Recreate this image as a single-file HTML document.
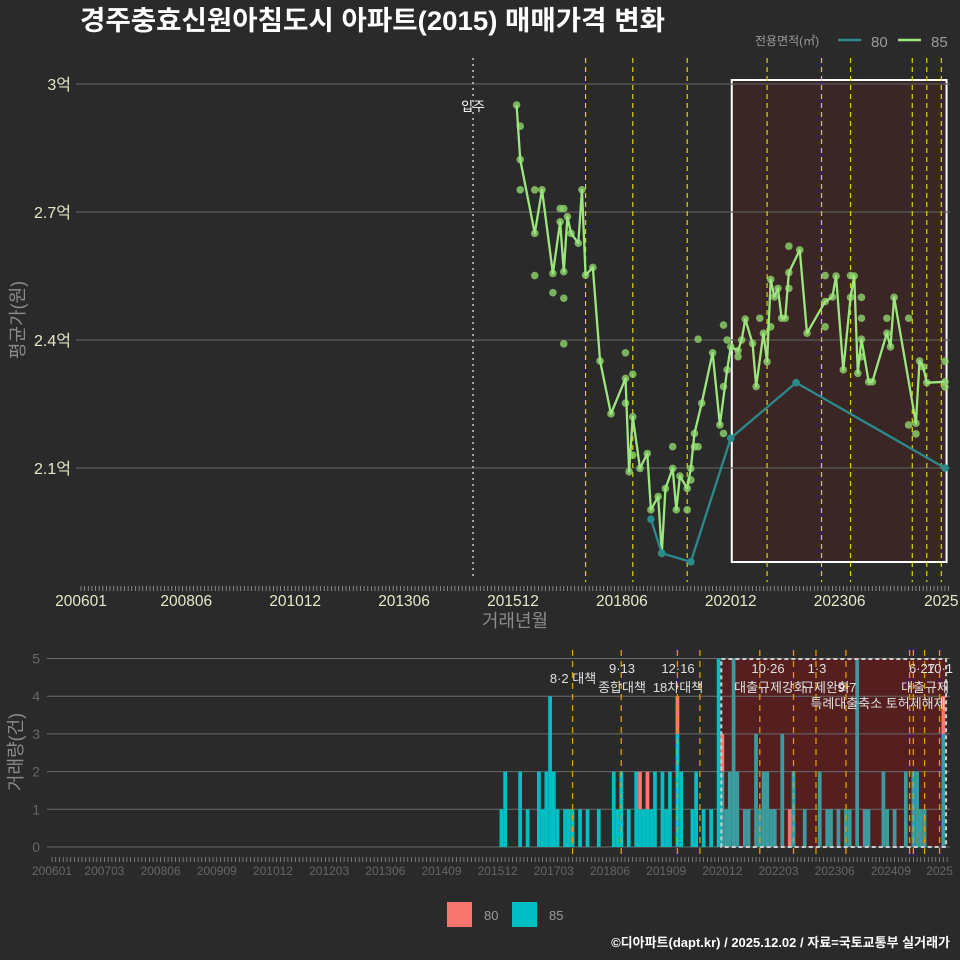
<!DOCTYPE html>
<html><head><meta charset="utf-8">
<style>
html,body{margin:0;padding:0;background:#2a2a2a;}
svg{display:block;font-family:"Liberation Sans","Noto Sans CJK KR",sans-serif;}
</style></head>
<body>
<svg id="c" width="960" height="960" viewBox="0 0 960 960">
<rect x="0" y="0" width="960" height="960" fill="#2a2a2a"/>
<text x="80" y="30" fill="#ffffff" font-size="27" font-weight="bold" textLength="585" lengthAdjust="spacingAndGlyphs">경주충효신원아침도시 아파트(2015) 매매가격 변화</text>
<g>
<text x="755" y="45" fill="#9a9a9a" font-size="12">전용면적(㎡)</text>
<line x1="838" y1="40" x2="861" y2="40" stroke="#2a8a8c" stroke-width="2.5"/>
<text x="871" y="47" fill="#9a9a9a" font-size="15">80</text>
<line x1="898" y1="40" x2="921" y2="40" stroke="#9be77e" stroke-width="2.5"/>
<text x="931" y="47" fill="#9a9a9a" font-size="15">85</text>
</g>
<g id="topg"></g>
<g id="botg"></g>
<text x="515" y="627" fill="#8a8a8a" font-size="18" text-anchor="middle">거래년월</text>
<text transform="translate(24,320) rotate(-90)" fill="#8a8a8a" font-size="18" text-anchor="middle">평균가(원)</text>
<text transform="translate(22,752) rotate(-90)" fill="#8a8a8a" font-size="18" text-anchor="middle">거래량(건)</text>
<g>
<rect x="447" y="902" width="25" height="25" fill="#f8766d"/>
<text x="484" y="920" fill="#9a9a9a" font-size="13">80</text>
<rect x="512" y="902" width="25" height="25" fill="#00bfc4"/>
<text x="549" y="920" fill="#9a9a9a" font-size="13">85</text>
</g>
<text x="950" y="947" fill="#ffffff" font-size="13" font-weight="bold" text-anchor="end">©디아파트(dapt.kr) / 2025.12.02 / 자료=국토교통부 실거래가</text>
</svg>
<script>
const NS="http://www.w3.org/2000/svg";
// ---- data ----
const yTicks=[2.1,2.4,2.7,3.0];
const yTickLabels=["2.1억","2.4억","2.7억","3억"];
const xTickLabelsTop=["200601","200806","201012","201306","201512","201806","202012","202306","202510"];
const xTickLabelsBot=["200601","200703","200806","200909","201012","201203","201306","201409","201512","201703","201806","201909","202012","202203","202306","202409","202510"];
const line85Months=["201601","201602","201606","201608","201611","201701","201702","201703","201704","201706","201707","201708","201710","201712","201803","201807","201808","201809","201811","201901","201902","201904","201905","201906","201908","201909","201910","201912","202001","202002","202004","202007","202009","202011","202012","202102","202103","202104","202106","202107","202109","202110","202111","202112","202201","202202","202203","202204","202207","202209","202302","202304","202305","202307","202309","202310","202311","202312","202402","202403","202407","202408","202409","202503","202504","202505","202506","202511"];
const line85Values=[2.951,2.823,2.650,2.752,2.556,2.677,2.560,2.689,2.650,2.627,2.752,2.552,2.570,2.351,2.227,2.310,2.091,2.220,2.099,2.134,2.002,2.033,1.900,2.052,2.099,2.002,2.081,2.052,2.099,2.181,2.252,2.370,2.201,2.330,2.384,2.375,2.400,2.449,2.392,2.291,2.416,2.349,2.542,2.501,2.521,2.451,2.451,2.558,2.611,2.416,2.490,2.501,2.550,2.330,2.500,2.550,2.322,2.402,2.302,2.302,2.416,2.384,2.500,2.205,2.351,2.337,2.300,2.302];
const extra85Months=["201602","201602","201606","201606","201611","201702","201702","201701","201702","201807","201809","201807","201809","201908","201912","202003","202002","202001","202003","202010","202010","202010","202011","202102","202108","202111","202204","202204","202302","202302","202309","202312","202312","202312","202407","202501","202501","202503","202511","202511"];
const extra85Values=[2.901,2.752,2.752,2.551,2.511,2.498,2.391,2.708,2.708,2.370,2.320,2.252,2.130,2.150,2.002,2.150,2.150,2.072,2.402,2.435,2.291,2.181,2.400,2.361,2.451,2.431,2.521,2.620,2.551,2.431,2.551,2.500,2.451,2.361,2.451,2.451,2.201,2.180,2.350,2.290];
const line80Months=["201902","201905","202001","202012","202206","202511"];
const line80Values=[1.98,1.90,1.88,2.17,2.30,2.10];
const barMonths=["201601","201602","201606","201608","201611","201612","201701","201702","201703","201704","201706","201707","201708","201710","201712","201803","201807","201808","201809","201811","201901","201902","201903","201904","201905","201906","201908","201909","201910","201912","202001","202004","202005","202007","202009","202011","202012","202101","202102","202103","202104","202106","202107","202109","202110","202111","202112","202201","202202","202204","202206","202207","202210","202302","202304","202305","202307","202309","202310","202312","202402","202403","202407","202408","202410","202501","202503","202504","202505","202506","202511"];
const bar85=[1,2,2,1,2,1,2,4,2,1,1,1,1,1,1,1,2,1,2,1,2,1,1,1,1,2,2,1,2,3,2,1,2,1,1,5,2,1,2,5,2,1,1,3,1,2,2,1,1,3,0,2,1,2,1,1,1,1,1,5,1,1,2,1,1,2,2,2,1,1,3];
const bar80=[0,0,0,0,0,0,0,0,0,0,0,0,0,0,0,0,0,0,0,0,0,1,0,1,0,0,0,0,0,1,0,0,0,0,0,0,1,0,0,0,0,0,0,0,0,0,0,0,0,0,1,0,0,0,0,0,0,0,0,0,0,0,0,0,0,0,0,0,0,0,1];
const eventTopMonths=["201708","201809","201912","202110","202301","202309","202502","202506","202510"];
const eventBotMonths=["201708","201809","201912","202006","202110","202207","202301","202309","202502","202503","202506","202510"];
const moveInMonth="201501";
const highlightStart="202012", highlightEnd="202512";
// ---- scales ----
function mi(s){return (parseInt(s.slice(0,4))-2006)*12+parseInt(s.slice(4))-1;}
function xT(s){return 81+mi(s)*3.63;}
function yT(v){return 468-(v-2.1)*426.67;}
function xB(s){return 52+mi(s)*3.745;}
function yB(v){return 847-v*37.7;}
function mk(tag,attrs,parent){const e=document.createElementNS(NS,tag);for(const k in attrs)e.setAttribute(k,attrs[k]);parent.appendChild(e);return e;}
const topG=document.getElementById('topg'), botG=document.getElementById('botg');
let e=mk('rect',{x:xT(highlightStart)+1,y:80,width:xT(highlightEnd)-xT(highlightStart)-3,height:482,fill:'rgba(130,25,25,0.2)',stroke:'#ffffff','stroke-width':2},topG);


yTicks.forEach((v,i)=>{
 let g=mk('line',{x1:76,x2:950,y1:yT(v),y2:yT(v),stroke:'#5a5a5a','stroke-width':1.3},topG);
 
 
 let t=mk('text',{x:71,y:yT(v)+6,fill:'#e8e8c8','font-size':16,'text-anchor':'end'},topG);
 t.textContent=yTickLabels[i];
 
 
});
let tk='';for(let m=0;m<=239;m++){const x=81+m*3.63;tk+=`M${x.toFixed(1)} 586V591`;}
e=mk('path',{d:tk,stroke:'#9a9a9a','stroke-width':0.8},topG);


xTickLabelsTop.forEach(s=>{
 let t=mk('text',{x:xT(s),y:606,fill:'#e8e8c8','font-size':15.5,'text-anchor':'middle'},topG);
 t.textContent=s==='202510'?'2025':s;
 
 
});
e=mk('line',{x1:xT(moveInMonth),x2:xT(moveInMonth),y1:58,y2:580,stroke:'#cccccc','stroke-width':1.5,'stroke-dasharray':'2,4'},topG);


e=mk('text',{x:xT(moveInMonth),y:111,fill:'#ffffff','font-size':13,'text-anchor':'middle'},topG);
e.textContent='입주';


eventTopMonths.forEach(s=>{
 let l=mk('line',{x1:xT(s),x2:xT(s),y1:58,y2:582,stroke:'#d8d800','stroke-width':1.2,'stroke-dasharray':'5,4'},topG);
 
 
});
line85Months.concat(extra85Months).forEach((s,i)=>{
 const v=i<line85Months.length?line85Values[i]:extra85Values[i-line85Months.length];
 let c=mk('circle',{cx:xT(s),cy:yT(v),r:3.8,fill:'#8fd46c','fill-opacity':0.8},topG);
 
 
});
e=mk('polyline',{points:line85Months.map((s,i)=>xT(s)+','+yT(line85Values[i])).join(' '),fill:'none',stroke:'#9be77e','stroke-width':2.3,'stroke-linejoin':'round'},topG);


e=mk('polyline',{points:line80Months.map((s,i)=>xT(s)+','+yT(line80Values[i])).join(' '),fill:'none',stroke:'#2a8a8c','stroke-width':2.3},topG);


line80Months.forEach((s,i)=>{
 let c=mk('circle',{cx:xT(s),cy:yT(line80Values[i]),r:3.8,fill:'#2a8a8c'},topG);
 
 
});
// ---- bottom ----
const hx0=xB(highlightStart)-1, hx1=xB(highlightEnd)-1;
e=mk('rect',{x:hx0,y:659,width:hx1-hx0,height:188,fill:'#551f20'},botG);


[0,1,2,3,4,5].forEach(v=>{
 let g=mk('line',{x1:47,x2:950,y1:yB(v),y2:yB(v),stroke:'#6a6a6a','stroke-width':1},botG);
 
 
 let t=mk('text',{x:40,y:yB(v)+5,fill:'#666666','font-size':14,'text-anchor':'end'},botG);
 t.textContent=v;
 
 
});
barMonths.forEach((s,i)=>{
 const inH=xB(s)>=hx0;
 const x=xB(s)-1.87,w=3.745;
 if(bar85[i]>0){let b=mk('rect',{x:x,y:yB(bar85[i]),width:w,height:bar85[i]*37.7,fill:inH?'#3a9c9e':'#00bfc4'},botG);
 
 }
 if(bar80[i]>0){let b=mk('rect',{x:x,y:yB(bar85[i]+bar80[i]),width:w,height:bar80[i]*37.7,fill:'#f8766d'},botG);
 
 }
});
e=mk('rect',{x:hx0,y:659,width:hx1-hx0,height:188,fill:'none',stroke:'#cccccc','stroke-width':2,'stroke-dasharray':'4,3'},botG);


eventBotMonths.forEach(s=>{
 let l=mk('line',{x1:xB(s),x2:xB(s),y1:650,y2:856,stroke:'#e09a00','stroke-width':1.3,'stroke-dasharray':'6,5'},botG);
 
 
});
let bt='';for(let m=0;m<=239;m++){const x=52+m*3.745;bt+=`M${x.toFixed(1)} 857V862`;}
e=mk('path',{d:bt,stroke:'#8a8a8a','stroke-width':0.8},botG);


xTickLabelsBot.forEach(s=>{
 let t=mk('text',{x:xB(s),y:875,fill:'#666666','font-size':12,'text-anchor':'middle'},botG);
 t.textContent=s==='202510'?'2025':s;
 
 
});
const ann=[["8·2 대책",573,683],["9·13",622,673],["종합대책",622,692],["12·16",678,673],["18차대책",678,692],["10·26",768,673],["대출규제강화",770,692],["1·3",817,673],["규제완화",826,692],["9·7",847,692],["특례대출축소 토허제해제",878,708],["6·27",922,673],["10·1",940,673],["대출규제",925,692]];
ann.forEach(a=>{
 let t=mk('text',{x:a[1],y:a[2],fill:'#e0e0e0','font-size':13,'text-anchor':'middle'},botG);
 t.textContent=a[0];
 
 
});
</script>
</body></html>
